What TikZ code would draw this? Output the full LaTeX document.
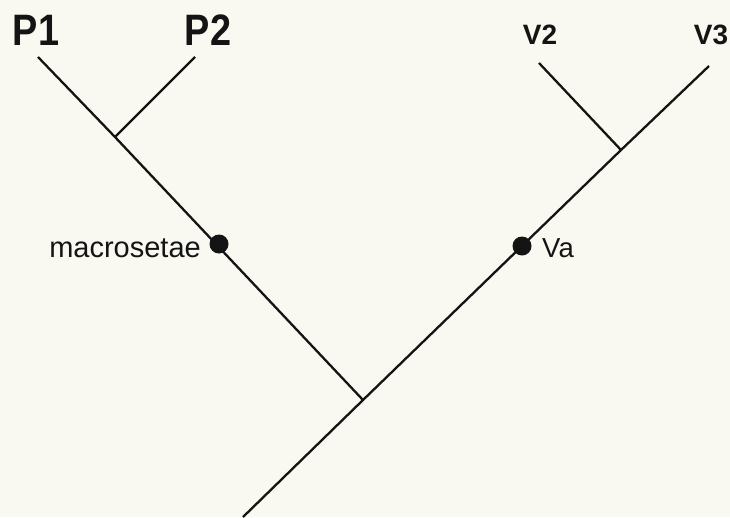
\documentclass[tikz,border=0pt]{standalone}
\usepackage{fontspec}
\setmainfont{Liberation Sans}
\newfontfamily\narrowfont[FakeStretch=0.86]{Liberation Sans}
\definecolor{bgcol}{RGB}{249,249,242}
\definecolor{ink}{RGB}{20,20,20}
\begin{document}
\begin{tikzpicture}[x=1pt,y=-1pt,
  branch/.style={draw=ink,line width=2.3pt},
  taxon/.style={font=\narrowfont\bfseries\fontsize{44}{46}\selectfont,text=ink,inner sep=0pt,anchor=base},
  taxonsm/.style={font=\bfseries\fontsize{28}{30}\selectfont,text=ink,inner sep=0pt,anchor=base},
  trait/.style={font=\fontsize{27.5}{30}\selectfont,text=ink,inner sep=0pt},
  dot/.style={circle,fill=ink,inner sep=0pt,minimum size=19pt}]
\fill[bgcol] (0,0) rectangle (730,517);
\useasboundingbox (0,0) rectangle (730,517);
% coordinates
\coordinate (root) at (243,517);
\coordinate (j1) at (363,400);
\coordinate (j2) at (115,137);
\coordinate (j3) at (621,150);
\coordinate (p1end) at (38,57);
\coordinate (p2end) at (195,57);
\coordinate (v2end) at (539,63);
\coordinate (v3end) at (709,66);
% branches
\draw[branch] (root) -- (j1) -- (j3) -- (v3end);
\draw[branch] (j1) -- (j2) -- (p1end);
\draw[branch] (j2) -- (p2end);
\draw[branch] (j3) -- (v2end);
% character dots
\node[dot] (macro) at (219,244) {};
\node[dot] (va) at (522,246) {};
% labels
\node[trait,font=\fontsize{29}{31}\selectfont,anchor=base east] (macrolab) at (201,257) {macrosetae};
\node[trait,anchor=base west] (valab) at (542,257) {Va};
\node[taxon] (p1) at (36,45) {P1};
\node[taxon] (p2) at (208,45) {P2};
\node[taxonsm] (v2) at (540,44) {V2};
\node[taxonsm] (v3) at (711,44) {V3};
\end{tikzpicture}
\end{document}
